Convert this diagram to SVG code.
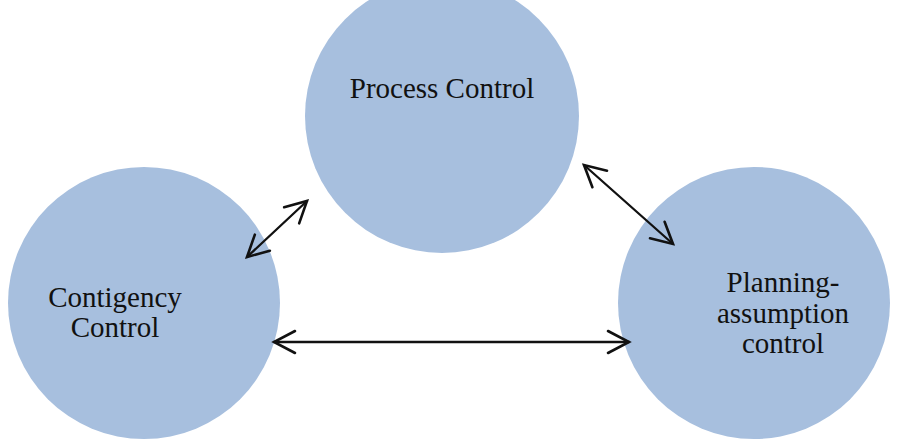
<svg xmlns="http://www.w3.org/2000/svg" width="905" height="446" viewBox="0 0 905 446">
  <style>
    .node { fill: #a7bfde; }
    .label { font-family: "Liberation Serif", "Times New Roman", serif; font-size: 29px; fill: #111111; text-anchor: middle; }
    .link { stroke: #111111; stroke-width: 2.3; fill: none; stroke-linecap: round; }
  </style>
  <defs>
    <marker id="chevron" markerUnits="userSpaceOnUse" viewBox="-24 -14 28 28" refX="0" refY="0" markerWidth="28" markerHeight="28" orient="auto-start-reverse">
      <path d="M -21 -11 L 0 0 L -21 11" fill="none" stroke="#111111" stroke-width="2.6" stroke-linecap="round" stroke-linejoin="miter"/>
    </marker>
  </defs>

  <rect width="905" height="446" fill="#ffffff"/>

  <g id="process-control">
    <circle class="node" cx="442" cy="116" r="137"/>
    <text class="label" x="442" y="98">Process Control</text>
  </g>

  <g id="contingency-control">
    <circle class="node" cx="144" cy="303" r="136"/>
    <text class="label" x="115" y="307">Contigency</text>
    <text class="label" x="115" y="337">Control</text>
  </g>

  <g id="planning-assumption-control">
    <circle class="node" cx="754" cy="303" r="136"/>
    <text class="label" x="783" y="292">Planning-</text>
    <text class="label" x="783" y="323">assumption</text>
    <text class="label" x="783" y="353">control</text>
  </g>

  <g id="connectors">
    <line class="link" x1="247" y1="257" x2="307" y2="201" marker-start="url(#chevron)" marker-end="url(#chevron)"/>
    <line class="link" x1="584" y1="165" x2="673" y2="244" marker-start="url(#chevron)" marker-end="url(#chevron)"/>
    <line class="link" x1="274" y1="342" x2="629" y2="342" marker-start="url(#chevron)" marker-end="url(#chevron)"/>
  </g>
</svg>
